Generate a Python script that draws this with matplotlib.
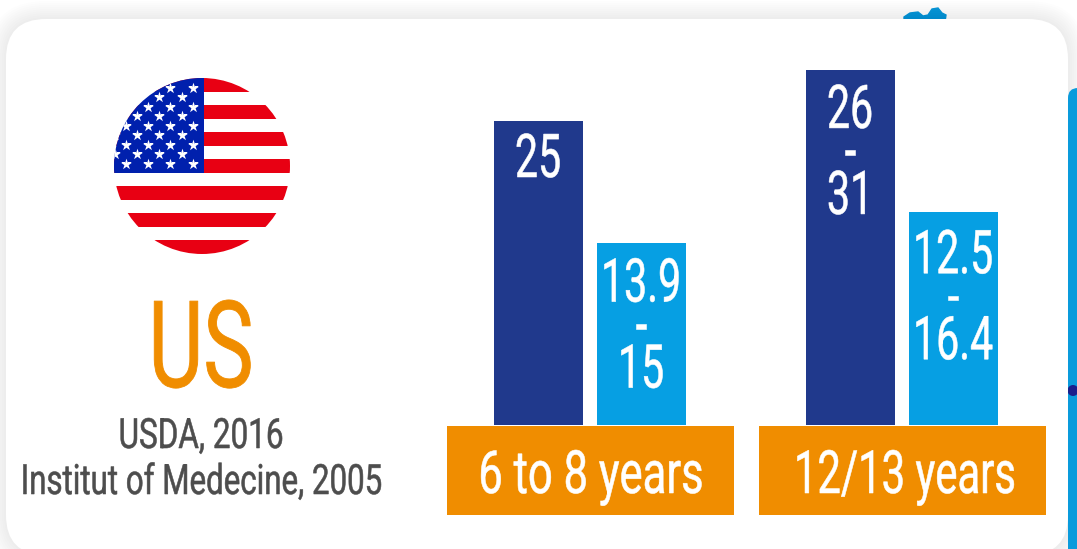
import numpy as np
import matplotlib
matplotlib.use("Agg")
import matplotlib.pyplot as plt
from matplotlib.patches import Circle, FancyBboxPatch, Polygon, Rectangle
from matplotlib.patheffects import AbstractPathEffect
from matplotlib.transforms import Affine2D

# Data
age_groups = ["6 to 8 years", "12/13 years"]
boys_heights = [25, 29.2]
girls_heights = [15, 17.5]
boys_labels = [["25"], ["26", "-", "31"]]
girls_labels = [["13.9", "-", "15"], ["12.5", "-", "16.4"]]
country = "US"
sources = ["USDA, 2016", "Institut of Medecine, 2005"]

# Colours
NAVY = "#20398c"
SKY = "#069fe3"
ORANGE = "#f08d00"
GREY = "#4d4d4d"
FLAG_RED = "#e80013"
FLAG_BLUE = "#0020ad"

FONT = "Roboto"
W, H = 1077, 549
PX_PER_UNIT = 12.16
BASELINE = 425


class Squeeze(AbstractPathEffect):
    # narrows glyphs around a vertical line and thickens the stems a little
    def __init__(self, sx, cx, weight, color):
        self.sx, self.cx, self.weight, self.color = sx, cx, weight, color

    def draw_path(self, renderer, gc, tpath, affine, rgbFace=None):
        squeeze = Affine2D().translate(-self.cx, 0).scale(self.sx, 1).translate(self.cx, 0)
        gc0 = renderer.new_gc()
        gc0.copy_properties(gc)
        gc0.set_foreground(self.color)
        gc0.set_linewidth(self.weight)
        renderer.draw_path(gc0, tpath, affine + squeeze, rgbFace)
        gc0.restore()


def label(ax, x, y, s, size, color, sx, weight=0.4):
    t = ax.text(x, y, s, fontsize=size, color=color, ha="center", va="baseline", family=FONT, zorder=10)
    cx = ax.transData.transform((x, y))[0]
    t.set_path_effects([Squeeze(sx, cx, weight, color)])
    return t


fig = plt.figure(figsize=(W / 100, H / 100), dpi=100, facecolor="white")

# Background layer in pixel coordinates
bg = fig.add_axes([0, 0, 1, 1])
bg.set_xlim(0, W)
bg.set_ylim(H, 0)
bg.axis("off")

bg.add_patch(Polygon([(904, 17), (910, 13), (918, 12), (923, 16), (928, 15), (932, 9), (938, 8),
                      (942, 13), (946, 15), (945, 22), (904, 22)], color="#0a9bdc", zorder=1))

# soft shadow round the panel
for grow in np.arange(18, 0, -2):
    bg.add_patch(FancyBboxPatch((46 - grow, 59 - grow), 982 + 2 * grow, 456 + 2 * grow,
                                boxstyle="round,pad=40,rounding_size=%d" % (40 + grow),
                                fc="black", ec="none", alpha=0.006, zorder=2))

bg.add_patch(FancyBboxPatch((1100, 120), 60, 500, boxstyle="round,pad=32,rounding_size=10",
                            fc="#0a9bdc", ec="none", zorder=3))
bg.add_patch(Circle((1073, 390.5), 5.5, fc="#1a1f8c", ec="none", zorder=4))
bg.add_patch(FancyBboxPatch((46, 59), 982, 456, boxstyle="round,pad=40,rounding_size=40",
                            fc="white", ec="none", zorder=5))

# Flag
cx, cy, r = 202, 166, 88
clip = Circle((cx, cy), r, transform=bg.transData)
stripe = 13.54
top = cy - r
for i in range(13):
    col = FLAG_RED if i % 2 == 0 else "white"
    p = bg.add_patch(Rectangle((cx - r, top + i * stripe), 2 * r, stripe + 0.2, fc=col, ec="none", zorder=6))
    p.set_clip_path(clip)
p = bg.add_patch(Rectangle((cx - r, top), r + 1.7, 95, fc=FLAG_BLUE, ec="none", zorder=7))
p.set_clip_path(clip)

star_rows = [87.5, 97, 106.5, 116, 125.5, 135, 144.5, 154, 163.5]
star_cols = [192.7, 181.7, 170.3, 159.3, 148.3, 137.3, 126, 115]
sx, sy = [], []
for i, y in enumerate(star_rows):
    for j, x in enumerate(star_cols):
        if (i + j) % 2 == 0:
            sx.append(x)
            sy.append(y)
stars = bg.scatter(sx, sy, marker="*", s=70, c="white", linewidths=0, zorder=8)
stars.set_clip_path(clip)

# Bars: zero sits on the orange band, one unit is PX_PER_UNIT pixels
ax_left = 590.5 - 156
ax_width = 312 * 2
y_low = -(H - BASELINE) / PX_PER_UNIT
y_high = BASELINE / PX_PER_UNIT
ax = fig.add_axes([ax_left / W, 0, ax_width / W, 1])
ax.set_xlim(-0.5, 1.5)
ax.set_ylim(y_low, y_high)
ax.axis("off")
ax.patch.set_alpha(0)

x = np.arange(len(age_groups))
nudge = 1 / 312
offset = 51.5 / 312
bar_w = 89 / 312
ax.bar(x - offset - nudge, boys_heights, bar_w, color=NAVY, zorder=3)
ax.bar(x + offset - nudge, girls_heights, bar_w, color=SKY, zorder=3)

band = 89 / PX_PER_UNIT
ax.bar(x, [-band] * len(x), 287 / 312, bottom=-1 / PX_PER_UNIT, color=ORANGE, zorder=3)

# Text inside the bars and the bands
row_step = 43 / PX_PER_UNIT
first_row = [[56 / PX_PER_UNIT, 59 / PX_PER_UNIT], [58 / PX_PER_UNIT, 61 / PX_PER_UNIT]]
band_fit = [(0.5 / 312, 0.73), (2.5 / 312, 0.70)]
for i, name in enumerate(age_groups):
    label(ax, i + band_fit[i][0], -68 / PX_PER_UNIT, name, 43, "white", band_fit[i][1])
    for j, (xpos, h, rows) in enumerate([(i - offset - nudge, boys_heights[i], boys_labels[i]),
                                         (i + offset - nudge, girls_heights[i], girls_labels[i])]):
        for k, row in enumerate(rows):
            label(ax, xpos, h - first_row[i][j] - k * row_step, row, 43.5, "white", 0.68)

# Country and sources
label(bg, 201, 387, country, 87, ORANGE, 0.70, 0.6)
label(bg, 201, 448, sources[0], 30, GREY, 0.755, 0.4)
label(bg, 201, 494, sources[1], 30, GREY, 0.75, 0.4)

fig.savefig("out.png", dpi=100)
